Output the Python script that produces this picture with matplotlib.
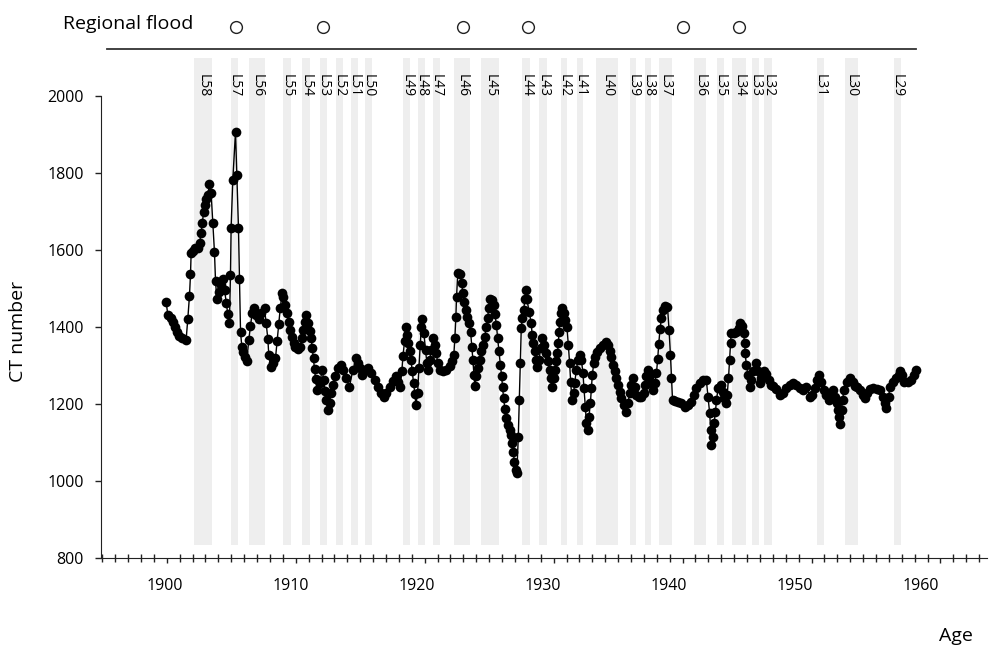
import matplotlib
matplotlib.use("Agg")
import matplotlib.pyplot as plt
from matplotlib.ticker import MultipleLocator, FixedLocator
from matplotlib.transforms import ScaledTranslation

plt.rcParams['font.family'] = ['Open Sans', 'DejaVu Sans']

# ---------------- data ----------------
age = [
    1899.95, 1900.08, 1900.34, 1900.52, 1900.67, 1900.80, 1900.98, 1901.19, 1901.50, 1901.63,
    1901.76, 1901.84, 1901.89, 1902.02, 1902.20, 1902.40, 1902.54, 1902.67, 1902.75, 1902.87,
    1902.98, 1903.05, 1903.18, 1903.31, 1903.44, 1903.57, 1903.70, 1903.78, 1903.88, 1904.03,
    1904.17, 1904.35, 1904.48, 1904.61, 1904.73, 1904.86, 1904.94, 1904.99, 1905.12, 1905.33,
    1905.43, 1905.56, 1905.64, 1905.72, 1905.82, 1905.95, 1906.10, 1906.20, 1906.36, 1906.49,
    1906.62, 1906.75, 1906.94, 1907.14, 1907.32, 1907.58, 1907.71, 1907.84, 1907.91, 1908.05,
    1908.22, 1908.43, 1908.56, 1908.69, 1908.80, 1908.95, 1909.05, 1909.18, 1909.31, 1909.44,
    1909.57, 1909.70, 1909.83, 1909.98, 1910.16, 1910.35, 1910.47, 1910.60, 1910.74, 1910.81,
    1910.94, 1911.07, 1911.20, 1911.28, 1911.38, 1911.46, 1911.54, 1911.64, 1911.85, 1912.06,
    1912.16, 1912.29, 1912.37, 1912.49, 1912.62, 1912.75, 1912.88, 1913.06, 1913.27, 1913.48,
    1913.65, 1913.92,
    1914.17, 1914.43, 1914.69, 1914.82, 1914.95, 1915.16, 1915.34, 1915.60, 1915.86, 1916.11,
    1916.37, 1916.63, 1916.84, 1917.02, 1917.28, 1917.53, 1917.74, 1917.92, 1918.10, 1918.23,
    1918.31, 1918.44, 1918.52, 1918.62, 1918.73, 1918.83, 1918.93, 1919.04, 1919.14, 1919.24,
    1919.32, 1919.45, 1919.55, 1919.66, 1919.74, 1919.81, 1919.94, 1920.07, 1920.17, 1920.28,
    1920.38, 1920.51, 1920.64, 1920.77, 1920.90, 1921.02, 1921.16, 1921.41, 1921.67, 1921.93,
    1922.14, 1922.26, 1922.34, 1922.42, 1922.47, 1922.57, 1922.76, 1922.86, 1922.96, 1923.07,
    1923.17, 1923.27, 1923.40, 1923.56, 1923.66, 1923.74, 1923.82, 1923.89, 1924.00, 1924.13,
    1924.26, 1924.39, 1924.52, 1924.65, 1924.78, 1924.88, 1924.96, 1925.09, 1925.24, 1925.35,
    1925.45, 1925.56, 1925.66, 1925.76, 1925.87, 1925.97, 1926.04, 1926.12, 1926.22, 1926.33,
    1926.45, 1926.59, 1926.72, 1926.80, 1926.87, 1926.95, 1927.05, 1927.15, 1927.26, 1927.34,
    1927.42, 1927.49, 1927.57, 1927.67, 1927.78, 1927.88,
    1927.93, 1928.10, 1928.27, 1928.33, 1928.40, 1928.53, 1928.66, 1928.71, 1928.86, 1929.00,
    1929.10, 1929.22, 1929.38, 1929.56, 1929.69, 1929.82, 1929.90, 1930.00, 1930.13, 1930.21,
    1930.29, 1930.37, 1930.41, 1930.47, 1930.60, 1930.67, 1930.80, 1930.91, 1931.03, 1931.14,
    1931.24, 1931.32, 1931.42, 1931.55, 1931.63, 1931.76, 1931.89, 1932.02, 1932.15, 1932.28,
    1932.35, 1932.46, 1932.54, 1932.64, 1932.74, 1932.85, 1932.93, 1933.00, 1933.11, 1933.21,
    1933.37, 1933.57, 1933.83, 1934.04, 1934.21, 1934.34, 1934.48, 1934.60, 1934.74, 1934.87,
    1935.00, 1935.13, 1935.26, 1935.44, 1935.65, 1935.77, 1935.90, 1936.03, 1936.15, 1936.28,
    1936.41, 1936.62, 1936.80, 1936.98, 1937.08, 1937.19, 1937.31, 1937.44, 1937.58, 1937.70,
    1937.83, 1937.97, 1938.07, 1938.15, 1938.25, 1938.36, 1938.48, 1938.67, 1938.83, 1938.95,
    1939.06, 1939.14, 1939.22, 1939.39, 1939.65, 1939.90, 1940.16, 1940.42, 1940.68, 1940.86,
    1941.07, 1941.32, 1941.58, 1941.84, 1941.97, 1942.10, 1942.18, 1942.23, 1942.36, 1942.44,
    1942.55, 1942.63, 1942.75,
    1942.99, 1943.12, 1943.25, 1943.38, 1943.46, 1943.56, 1943.64, 1943.72, 1943.77, 1943.98,
    1944.16, 1944.34, 1944.47, 1944.60, 1944.73, 1944.81, 1944.86, 1944.94, 1945.07, 1945.20,
    1945.33, 1945.45, 1945.66, 1945.84, 1945.97, 1946.10, 1946.28, 1946.49, 1946.67, 1946.82,
    1947.00, 1947.26, 1947.52, 1947.78, 1948.05, 1948.31, 1948.56, 1948.82, 1949.08, 1949.34,
    1949.60, 1949.86, 1950.07, 1950.25, 1950.43, 1950.58, 1950.77, 1950.95, 1951.16, 1951.36,
    1951.55, 1951.68, 1951.81, 1951.94, 1952.02, 1952.15, 1952.20, 1952.33, 1952.41, 1952.51,
    1952.72, 1952.98, 1953.19, 1953.37, 1953.55, 1953.76, 1953.97, 1954.15, 1954.33, 1954.54,
    1954.80, 1955.06, 1955.32, 1955.53, 1955.66, 1955.79, 1955.97, 1956.10, 1956.31, 1956.57,
    1956.75, 1956.88, 1957.01, 1957.19, 1957.45, 1957.71, 1957.92, 1958.13,
]

ct_number = [
    1466, 1432, 1423, 1414, 1401, 1388, 1377, 1371, 1367, 1421,
    1481, 1537, 1593, 1598, 1605, 1605, 1619, 1645, 1671, 1700,
    1717, 1732, 1743, 1771, 1748, 1670, 1594, 1520, 1473, 1492,
    1510, 1524, 1497, 1464, 1434, 1410, 1536, 1658, 1782, 1907,
    1795, 1658, 1524, 1388, 1349, 1336, 1323, 1311, 1367, 1403,
    1436, 1451, 1432, 1421, 1436, 1449, 1410, 1369, 1328, 1297,
    1306, 1319, 1364, 1408, 1449, 1490, 1479, 1458, 1436, 1414,
    1393, 1375, 1360, 1349, 1343, 1349, 1371, 1393, 1414, 1432,
    1410, 1391, 1371, 1347, 1319, 1291, 1265, 1237, 1254, 1289,
    1263, 1235, 1211, 1185, 1203, 1229, 1250, 1272, 1293, 1302,
    1289, 1267,
    1246, 1289, 1319, 1306, 1293, 1276, 1289, 1293, 1280, 1263,
    1246, 1229, 1220, 1229, 1246, 1261, 1272, 1259, 1246, 1285,
    1324, 1363, 1400, 1380, 1358, 1337, 1315, 1285, 1254, 1227,
    1198, 1229, 1293, 1354, 1401, 1420, 1384, 1341, 1306, 1289,
    1315, 1341, 1371, 1354, 1332, 1306, 1289, 1287, 1289, 1298,
    1311, 1328, 1371, 1427, 1479, 1540, 1538, 1514, 1490, 1466,
    1445, 1427, 1410, 1388, 1349, 1315, 1276, 1248, 1272, 1293,
    1315, 1337, 1354, 1375, 1400, 1423, 1449, 1472, 1471, 1458,
    1434, 1406, 1371, 1337, 1302, 1272, 1244, 1216, 1187, 1164,
    1146, 1133, 1120, 1099, 1077, 1051, 1029, 1022, 1116, 1211,
    1306, 1397, 1423, 1445, 1472, 1497,
    1472, 1440, 1410, 1380, 1358, 1337, 1315, 1296, 1315, 1345,
    1371, 1354, 1332, 1311, 1289, 1267, 1246, 1267, 1289, 1311,
    1332, 1358, 1388, 1414, 1436, 1449, 1436, 1419, 1401, 1354,
    1306, 1259, 1211, 1229, 1254, 1289, 1315, 1328, 1315, 1280,
    1241, 1194, 1151, 1132, 1168, 1203, 1241, 1276, 1306, 1323,
    1336, 1345, 1354, 1362, 1354, 1337, 1323, 1302, 1285, 1267,
    1250, 1233, 1216, 1198, 1181, 1203, 1229, 1250, 1267, 1246,
    1224, 1218, 1220, 1229, 1250, 1272, 1289, 1276, 1254, 1237,
    1254, 1280, 1317, 1356, 1395, 1423, 1445, 1455, 1453, 1393,
    1328, 1267, 1211, 1209, 1207, 1203, 1194, 1198, 1207, 1224,
    1241, 1254, 1263, 1263, 1220, 1177, 1133, 1094, 1116, 1151,
    1181, 1211, 1241,
    1250, 1233, 1216, 1203, 1224, 1267, 1315, 1358, 1386, 1386,
    1388, 1397, 1412, 1403, 1384, 1358, 1332, 1302, 1276, 1246,
    1263, 1285, 1306, 1285, 1254, 1267, 1285, 1279, 1263, 1250,
    1248, 1239, 1224, 1230, 1241, 1250, 1254, 1250, 1241, 1237,
    1246, 1220, 1224, 1241, 1263, 1276, 1259, 1237, 1224, 1211,
    1224, 1237, 1220, 1203, 1185, 1168, 1149, 1185, 1211, 1237,
    1259, 1267, 1259, 1248, 1244, 1237, 1224, 1216, 1229, 1239,
    1241, 1239, 1237, 1220, 1203, 1190, 1220, 1246, 1259, 1267,
    1276, 1285, 1276, 1259, 1257, 1263, 1276, 1289,
]

layer_names = ['L58', 'L57', 'L56', 'L55', 'L54', 'L53', 'L52', 'L51', 'L50', 'L49',
               'L48', 'L47', 'L46', 'L45', 'L44', 'L43', 'L42', 'L41', 'L40', 'L39',
               'L38', 'L37', 'L36', 'L35', 'L34', 'L33', 'L32', 'L31', 'L30', 'L29']
layer_start = [1902.10, 1905.00, 1906.40, 1909.00, 1910.50, 1911.85, 1913.10, 1914.25, 1915.35, 1918.35,
               1919.45, 1920.65, 1922.30, 1924.35, 1927.55, 1928.90, 1930.55, 1931.80, 1933.25, 1935.90,
               1937.10, 1938.15, 1940.85, 1942.70, 1943.80, 1945.35, 1946.35, 1950.40, 1952.60, 1956.40]
layer_end = [1903.50, 1905.50, 1907.60, 1909.60, 1911.10, 1912.40, 1913.65, 1914.80, 1915.95, 1918.90,
             1920.00, 1921.20, 1923.50, 1925.80, 1928.15, 1929.45, 1931.05, 1932.30, 1935.00, 1936.40,
             1937.55, 1939.15, 1941.85, 1943.20, 1944.95, 1945.90, 1946.95, 1950.95, 1953.60, 1956.95]

flood_years = [1905.4, 1912.15, 1922.95, 1928.05, 1940.0, 1944.35]

x_ticks = [1900, 1910, 1920, 1930, 1940, 1950, 1960]
x_tick_labels = ['1900', '1910', '1920', '1930', '1940', '1950', '1960']
y_ticks = [800, 1000, 1200, 1400, 1600, 1800, 2000]
y_tick_labels = ['800', '1000', '1200', '1400', '1600', '1800', '2000']

# ---------------- figure ----------------
fig = plt.figure(figsize=(10.05, 6.56), dpi=100)
ax = fig.add_axes([0.1005, 0.1489, 0.8815, 0.7634])

X_MIN, X_MAX = 1894.9, 1963.6
Y_MIN, Y_MAX = 800, 2100
ax.set_xlim(X_MIN, X_MAX)
ax.set_ylim(Y_MIN, Y_MAX)

band_lo, band_hi = 835, 2098
for name, s, e in zip(layer_names, layer_start, layer_end):
    ax.fill_between([s, e], band_lo, band_hi, color='#eeeeee', lw=0, zorder=0)
    ax.text((s + e) / 2, 2058, name, rotation=-90, ha='center', va='top',
            fontsize=10, color='black', zorder=1)

ax.plot(age, ct_number, color='black', lw=1.0, marker='o', markersize=7,
        markeredgewidth=0, zorder=3)

# Regional flood row
ax.plot(flood_years, [2179] * len(flood_years), linestyle='none', marker='o',
        markersize=8.5, markerfacecolor='white', markeredgecolor='#222222',
        markeredgewidth=1.0, clip_on=False, zorder=4)
ax.plot([1895.35, 1958.1], [2123, 2123], color='#333333', lw=1.3,
        clip_on=False, zorder=4)
fig.text(63 / 1005, 1 - 24 / 656, 'Regional flood', fontsize=14,
         ha='left', va='center')

# Axes styling
for side in ['top', 'right']:
    ax.spines[side].set_visible(False)
ax.spines['left'].set_bounds(800, 2000)
ax.spines['left'].set_color('#222222')
ax.spines['bottom'].set_color('#222222')

ax.yaxis.set_major_locator(FixedLocator(y_ticks))
ax.set_yticklabels(y_tick_labels)
ax.xaxis.set_major_locator(FixedLocator(x_ticks))
ax.set_xticklabels(x_tick_labels)
ax.xaxis.set_minor_locator(MultipleLocator(1))

ax.tick_params(axis='y', which='major', direction='out', length=4.5, width=1,
               pad=8, labelsize=11.5, color='#222222')
ax.tick_params(axis='x', which='major', direction='out', length=3.6, width=1,
               pad=10.5, labelsize=11.5, color='#222222')
ax.tick_params(axis='x', which='minor', direction='inout', length=6, width=1,
               color='#222222')

# slight leftward drift of the x tick labels, as in the original
for tick_year, lab in zip(x_ticks, ax.get_xticklabels()):
    dx = (tick_year - 1895) * 0.3 / 100.0
    lab.set_transform(lab.get_transform() + ScaledTranslation(-dx, 0, fig.dpi_scale_trans))

ax.set_ylabel('CT number', fontsize=14)
ax.yaxis.set_label_coords(-0.083, 0.454)
ax.set_xlabel('Age', fontsize=14)
ax.xaxis.label.set_verticalalignment('center')
ax.xaxis.set_label_coords(0.965, -0.155)

fig.savefig('out.png', dpi=100)
